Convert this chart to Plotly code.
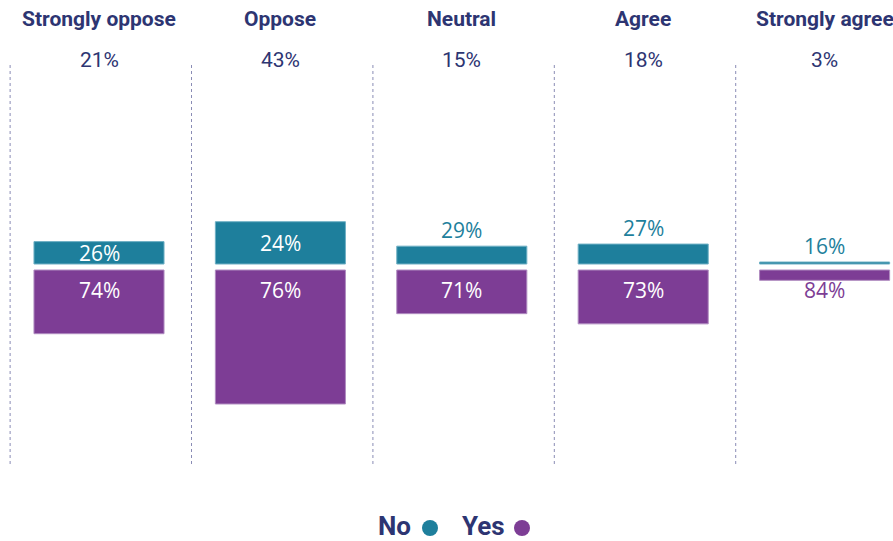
import plotly.graph_objects as go

categories = ["Strongly oppose", "Oppose", "Neutral", "Agree", "Strongly agree"]
totals = [21, 43, 15, 18, 3]
no_share = [26, 24, 29, 27, 16]
yes_share = [74, 76, 71, 73, 84]

TEAL = "#1e7f9c"
PURPLE = "#7d3d95"
NAVY = "#2d3572"
W, H = 893, 541
SCALE = 4.1          # px per unit
GAP = 3 / SCALE      # half gap between bars
HEAD_FONT = "Roboto, sans-serif"
LBL_FONT = "Open Sans, Noto Sans, sans-serif"

x = list(range(len(categories)))
no_val = [t * s / 100 for t, s in zip(totals, no_share)]
yes_val = [t * s / 100 for t, s in zip(totals, yes_share)]

fig = go.Figure()
fig.add_trace(go.Bar(x=x, y=no_val, base=[GAP] * len(x), width=0.717,
                     marker=dict(color=TEAL, line=dict(color="#6fb0c4", width=1)),
                     hoverinfo="skip", showlegend=False))
fig.add_trace(go.Bar(x=x, y=[-v for v in yes_val], base=[-GAP] * len(x), width=0.717,
                     marker=dict(color=PURPLE, line=dict(color="#b08cc0", width=1)),
                     hoverinfo="skip", showlegend=False))

ann = []
for i, cat in enumerate(categories):
    ann.append(dict(x=i, y=1 - 19 / H, xref="x", yref="paper", text=f"<b>{cat}</b>",
                    showarrow=False, font=dict(family=HEAD_FONT, size=21, color=NAVY),
                    yanchor="middle"))
    ann.append(dict(x=i, y=1 - 60 / H, xref="x", yref="paper", text=f"{totals[i]}%",
                    showarrow=False, font=dict(family=HEAD_FONT, size=21, color=NAVY),
                    yanchor="middle"))
    # No label
    hpx = no_val[i] * SCALE
    if hpx >= 21:
        ann.append(dict(x=i, y=GAP + no_val[i] / 2, text=f"{no_share[i]}%", showarrow=False,
                        font=dict(family=LBL_FONT, size=21, color="white"), yanchor="middle"))
    else:
        ann.append(dict(x=i, y=GAP + no_val[i], text=f"{no_share[i]}%", showarrow=False,
                        font=dict(family=LBL_FONT, size=21, color=TEAL), yanchor="bottom"))
    # Yes label
    ypx = yes_val[i] * SCALE
    col = "white" if ypx >= 30 else PURPLE
    ann.append(dict(x=i, y=-GAP, text=f"{yes_share[i]}%", showarrow=False, yshift=-4,
                    font=dict(family=LBL_FONT, size=21, color=col), yanchor="top"))

# legend (text then dot)
ann.append(dict(x=413 / W, y=1 - 526 / H, xref="paper", yref="paper", text="<b>No</b>",
                showarrow=False, xanchor="right", yanchor="middle",
                font=dict(family=HEAD_FONT, size=26, color=NAVY)))
ann.append(dict(x=507 / W, y=1 - 526 / H, xref="paper", yref="paper", text="<b>Yes</b>",
                showarrow=False, xanchor="right", yanchor="middle",
                font=dict(family=HEAD_FONT, size=26, color=NAVY)))

shapes = []
for i in x:
    shapes.append(dict(type="line", xref="x", yref="paper", x0=i - 0.49, x1=i - 0.49,
                       y0=1 - 65 / H, y1=1 - 465 / H,
                       line=dict(color="#8a8cb5", width=1, dash="dot")))
for cx, c in [(430, TEAL), (522, PURPLE)]:
    shapes.append(dict(type="circle", xref="paper", yref="paper",
                       x0=(cx - 8) / W, x1=(cx + 8) / W, y0=1 - (528 + 8) / H, y1=1 - (528 - 8) / H,
                       fillcolor=c, line=dict(width=0)))

fig.update_layout(
    width=W, height=H, margin=dict(l=0, r=0, t=0, b=0),
    paper_bgcolor="white", plot_bgcolor="white", barmode="overlay",
    xaxis=dict(range=[-99 / 181.4, (W - 99) / 181.4], visible=False, fixedrange=True),
    yaxis=dict(range=[-(H - 267) / SCALE, 267 / SCALE], visible=False, fixedrange=True),
    annotations=ann, shapes=shapes,
)
fig.write_html("out.html")
